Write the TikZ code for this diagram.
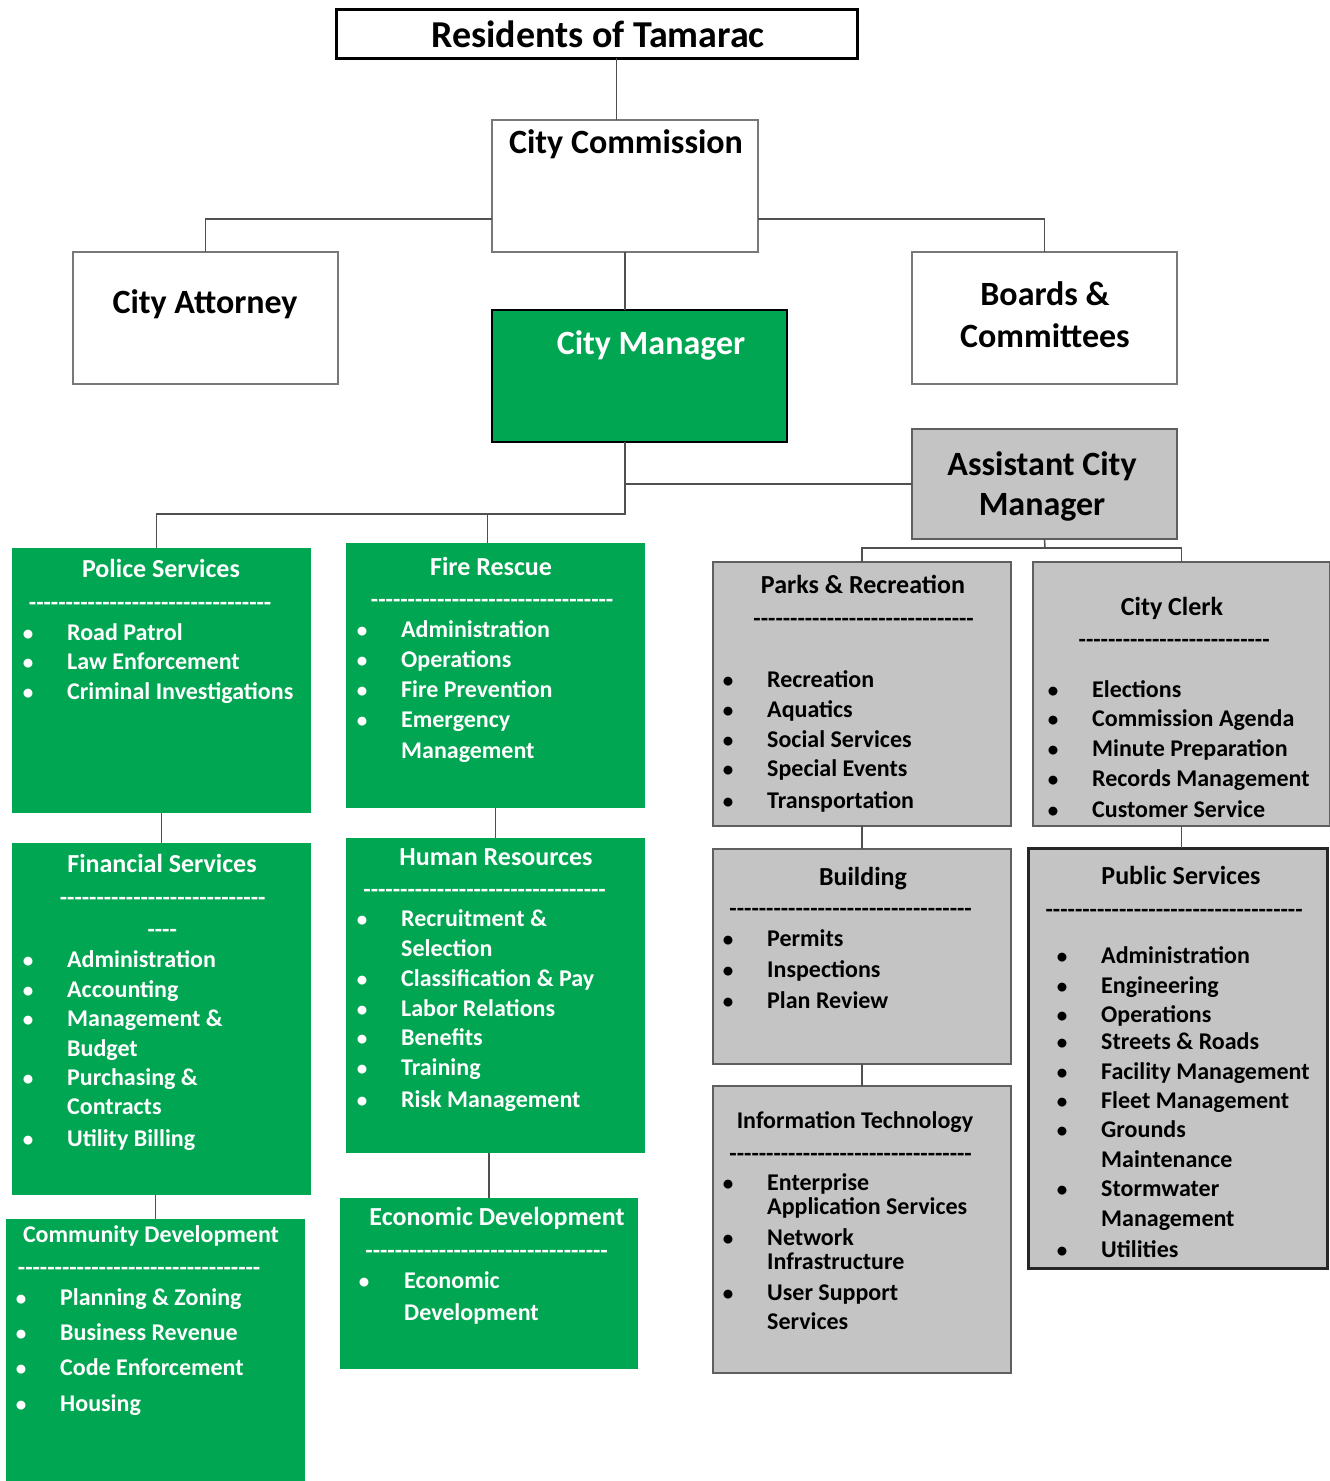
\documentclass[tikz,border=0pt]{standalone}
\usepackage{fontspec}
\setmainfont{Carlito}
\usetikzlibrary{positioning}
\usetikzlibrary{calc}
\definecolor{deptgreen}{RGB}{0,166,81}
\definecolor{deptgray}{RGB}{196,196,196}
\definecolor{grayline}{RGB}{95,95,95}
\definecolor{boxline}{RGB}{120,120,120}
\definecolor{linkgray}{RGB}{80,80,80}
\newcommand\hyphenrule[1]{\hbox to #1{\cleaders\hbox{-}\hfill}}
\tikzset{
    link/.style={draw=linkgray, line width=1.5pt},
    box/.style={anchor=north west, inner sep=0pt, outer sep=0pt},
    whitebox/.style={box, fill=white, draw=boxline, line width=1.5pt},
    greenbox/.style={box, fill=deptgreen},
    graybox/.style={box, fill=deptgray, draw=grayline, line width=1.5pt},
    depthead/.style={inner sep=0pt, font=\fontsize{34}{42}\selectfont\bfseries, text height=22pt, text depth=0pt},
    depthead2/.style={inner sep=0pt, align=center, font=\fontsize{34}{42}\selectfont\bfseries},
    depttitle/.style={inner sep=0pt, font=\fontsize{26}{30}\selectfont\bfseries, text height=16.7pt, text depth=0pt},
    deptsmall/.style={depttitle, font=\fontsize{24}{28}\selectfont\bfseries, text height=15.5pt},
    deptitem/.style={anchor=west, inner sep=0pt, font=\fontsize{24}{28}\selectfont\bfseries, text height=15.5pt, text depth=0pt},
    deptdot/.style={deptitem, anchor=center, font=\fontsize{21}{28}\selectfont\bfseries},
    dashrow/.style={anchor=base west, inner sep=0pt, font=\fontsize{24}{28}\selectfont\bfseries},
}
\begin{document}
\begin{tikzpicture}[x=1pt, y=-1pt]
    \useasboundingbox (0,0) rectangle (1330,1481);

    % top of the chart
    \node[box, fill=white, draw=black, line width=3pt, minimum width=521pt, minimum height=49pt] (res) at (336,9) {};
    \node[depthead, font=\fontsize{38}{42}\selectfont\bfseries, text height=24.5pt] (restxt) at (598,35) {Residents of Tamarac};
    \node[whitebox, minimum width=266pt, minimum height=132pt] (comm) at (492,120) {};
    \node[depthead] (commtxt) at (626,142) {City Commission};
    \node[whitebox, minimum width=265pt, minimum height=132pt] (att) at (73,252) {};
    \node[depthead] (atttxt) at (205,302) {City Attorney};
    \node[whitebox, minimum width=265pt, minimum height=132pt] (brd) at (912,252) {};
    \node[depthead2] (brdtxt) at (1045,315) {Boards \&\\Committees};
    \node[box, fill=deptgreen, draw=black, line width=2.5pt, minimum width=295pt, minimum height=132pt] (mgr) at (492,310) {};
    \node[depthead, text=white] (mgrtxt) at (651,343) {City Manager};
    \node[graybox, minimum width=265pt, minimum height=110pt] (acm) at (912,429) {};
    \node[depthead2, font=\fontsize{34}{40}\selectfont\bfseries] (acmtxt) at (1042,486) {Assistant City\\Manager};

    % department boxes
    \node[greenbox, minimum width=299pt, minimum height=265pt] (pol) at (12,548) {};
    \node[greenbox, minimum width=299pt, minimum height=265pt] (fire) at (346,543) {};
    \node[greenbox, minimum width=299pt, minimum height=352pt] (fin) at (12,843) {};
    \node[greenbox, minimum width=299pt, minimum height=315pt] (hr) at (346,838) {};
    \node[greenbox, minimum width=299pt, minimum height=262pt] (com) at (6,1219) {};
    \node[greenbox, minimum width=298pt, minimum height=171pt] (eco) at (340,1198) {};
    \node[graybox, minimum width=298pt, minimum height=264pt] (parks) at (713,562) {};
    \node[graybox, minimum width=297pt, minimum height=264pt] (clerk) at (1033,562) {};
    \node[graybox, minimum width=298pt, minimum height=215pt] (bld) at (713,849) {};
    \node[graybox, minimum width=298pt, minimum height=287pt] (it) at (713,1086) {};
    \node[graybox, draw=black!85, line width=3pt, minimum width=299pt, minimum height=420pt] (pub) at (1028,848) {};

    % connectors
    \coordinate (hub) at (625,514);
    \coordinate (asplit) at (1045,548);
    \draw[link] ([xshift=20pt]res.south) -- ([xshift=20pt]res.south |- comm.north);
    \draw[link] ([yshift=-33pt]comm.west) -| (att.north);
    \draw[link] ([yshift=-33pt]comm.east) -| (brd.north);
    \draw[link] (comm.south) -- (comm.south |- mgr.north);
    \draw[link] (mgr.south -| hub) -- (hub) -| ([xshift=-5pt]pol.north);
    \draw[link] (hub) -| ([xshift=-8pt]fire.north);
    \draw[link] (acm.west) -- (acm.west -| hub);
    \draw[link] (acm.south) -- (asplit);
    \draw[link] (parks.north) |- (asplit) -| (clerk.north);
    \draw[link] (pol.south) -- (fin.north);
    \draw[link] (com.north) -- (com.north |- fin.south);
    \draw[link] (fire.south) -- (hr.north);
    \draw[link] (eco.north) -- (eco.north |- hr.south);
    \draw[link] (parks.south) -- (bld.north);
    \draw[link] (bld.south) -- (it.north);
    \draw[link] (clerk.south) -- (clerk.south |- pub.north);

    % green departments
    \begin{scope}[every node/.append style={text=white}]
        \node[depttitle] (poltxt) at (161,569) {Police Services};
        \node[dashrow] (poldash) at (28,610) {\hyphenrule{244pt}};
        \foreach \yy/\txt [count=\k] in {633/Road Patrol, 662/Law Enforcement, 692/Criminal Investigations}
            \node[deptitem] (pol\k) at (67,\yy) {\txt};
        \foreach \yy [count=\k] in {633,662,692}
            \node[deptdot] (polb\k) at (28,\yy) {\textbullet};

        \node[depttitle] (firetxt) at (491,567) {Fire Rescue};
        \node[dashrow] (firedash) at (370,607) {\hyphenrule{244pt}};
        \foreach \yy/\txt [count=\k] in {630/Administration, 660/Operations, 690/Fire Prevention, 720/Emergency, 751/Management}
            \node[deptitem] (fire\k) at (401,\yy) {\txt};
        \foreach \yy [count=\k] in {630,660,690,720}
            \node[deptdot] (fireb\k) at (362,\yy) {\textbullet};

        \node[depttitle] (fintxt) at (162,864) {Financial Services};
        \node[dashrow] (findash) at (57,905) {\hyphenrule{211pt}};
        \node[dashrow] (findash2) at (147,937) {\hyphenrule{30pt}};
        \foreach \yy/\txt [count=\k] in {960/Administration, 990/Accounting, 1019/Management \&, 1049/Budget, 1078/Purchasing \&, 1107/Contracts, 1139/Utility Billing}
            \node[deptitem] (fin\k) at (67,\yy) {\txt};
        \foreach \yy [count=\k] in {960,990,1019,1078,1139}
            \node[deptdot] (finb\k) at (28,\yy) {\textbullet};

        \node[depttitle] (hrtxt) at (496,857) {Human Resources};
        \node[dashrow] (hrdash) at (362,897) {\hyphenrule{245pt}};
        \foreach \yy/\txt [count=\k] in {919/Recruitment \&, 949/Selection, 979/Classification \& Pay, 1009/Labor Relations, 1038/Benefits, 1068/Training, 1100/Risk Management}
            \node[deptitem] (hr\k) at (401,\yy) {\txt};
        \foreach \yy [count=\k] in {919,979,1009,1038,1068,1100}
            \node[deptdot] (hrb\k) at (362,\yy) {\textbullet};

        \node[deptsmall] (comtxt) at (151,1235) {Community Development};
        \node[dashrow] (comdash) at (16,1275) {\hyphenrule{246pt}};
        \foreach \yy/\txt [count=\k] in {1298/Planning \& Zoning, 1333/Business Revenue, 1368/Code Enforcement, 1404/Housing}
            \node[deptitem] (com\k) at (60,\yy) {\txt};
        \foreach \yy [count=\k] in {1298,1333,1368,1404}
            \node[deptdot] (comb\k) at (21,\yy) {\textbullet};

        \node[depttitle] (ecotxt) at (497,1217) {Economic Development};
        \node[dashrow] (ecodash) at (365,1258) {\hyphenrule{243pt}};
        \foreach \yy/\txt [count=\k] in {1281/Economic, 1313/Development}
            \node[deptitem] (eco\k) at (404,\yy) {\txt};
        \node[deptdot] (ecob1) at (364,1281) {\textbullet};
    \end{scope}

    % gray departments
    \node[depttitle] (parkstxt) at (863,585) {Parks \& Recreation};
    \node[dashrow] (parksdash) at (753,626) {\hyphenrule{221pt}};
    \foreach \yy/\txt [count=\k] in {680/Recreation, 710/Aquatics, 740/Social Services, 769/Special Events, 801/Transportation}
        \node[deptitem] (parks\k) at (767,\yy) {\txt};
    \foreach \yy [count=\k] in {680,710,740,769,801}
        \node[deptdot] (parksb\k) at (728,\yy) {\textbullet};

    \node[depttitle] (clerktxt) at (1172,607) {City Clerk};
    \node[dashrow] (clerkdash) at (1076,647) {\hyphenrule{196pt}};
    \foreach \yy/\txt [count=\k] in {690/Elections, 719/Commission Agenda, 749/Minute Preparation, 779/Records Management, 810/Customer Service}
        \node[deptitem] (clerk\k) at (1092,\yy) {\txt};
    \foreach \yy [count=\k] in {690,719,749,779,810}
        \node[deptdot] (clerkb\k) at (1053,\yy) {\textbullet};

    \node[depttitle] (bldtxt) at (863,877) {Building};
    \node[dashrow] (blddash) at (728,916) {\hyphenrule{245pt}};
    \foreach \yy/\txt [count=\k] in {939/Permits, 970/Inspections, 1001/Plan Review}
        \node[deptitem] (bld\k) at (767,\yy) {\txt};
    \foreach \yy [count=\k] in {939,970,1001}
        \node[deptdot] (bldb\k) at (728,\yy) {\textbullet};

    \node[deptsmall] (ittxt) at (855,1121) {Information Technology};
    \node[dashrow] (itdash) at (728,1161) {\hyphenrule{245pt}};
    \foreach \yy/\txt [count=\k] in {1183/Enterprise, 1207/Application Services, 1238/Network, 1262/Infrastructure, 1293/User Support, 1322/Services}
        \node[deptitem] (it\k) at (767,\yy) {\txt};
    \foreach \yy [count=\k] in {1183,1238,1293}
        \node[deptdot] (itb\k) at (728,\yy) {\textbullet};

    \node[depttitle] (pubtxt) at (1181,876) {Public Services};
    \node[dashrow] (pubdash) at (1043,917) {\hyphenrule{262pt}};
    \foreach \yy/\txt [count=\k] in {956/Administration, 986/Engineering, 1015/Operations, 1042/Streets \& Roads, 1072/Facility Management, 1101/Fleet Management, 1130/Grounds, 1160/Maintenance, 1189/Stormwater, 1219/Management, 1250/Utilities}
        \node[deptitem] (pub\k) at (1101,\yy) {\txt};
    \foreach \yy [count=\k] in {956,986,1015,1042,1072,1101,1130,1189,1250}
        \node[deptdot] (pubb\k) at (1062,\yy) {\textbullet};
\end{tikzpicture}
\end{document}
